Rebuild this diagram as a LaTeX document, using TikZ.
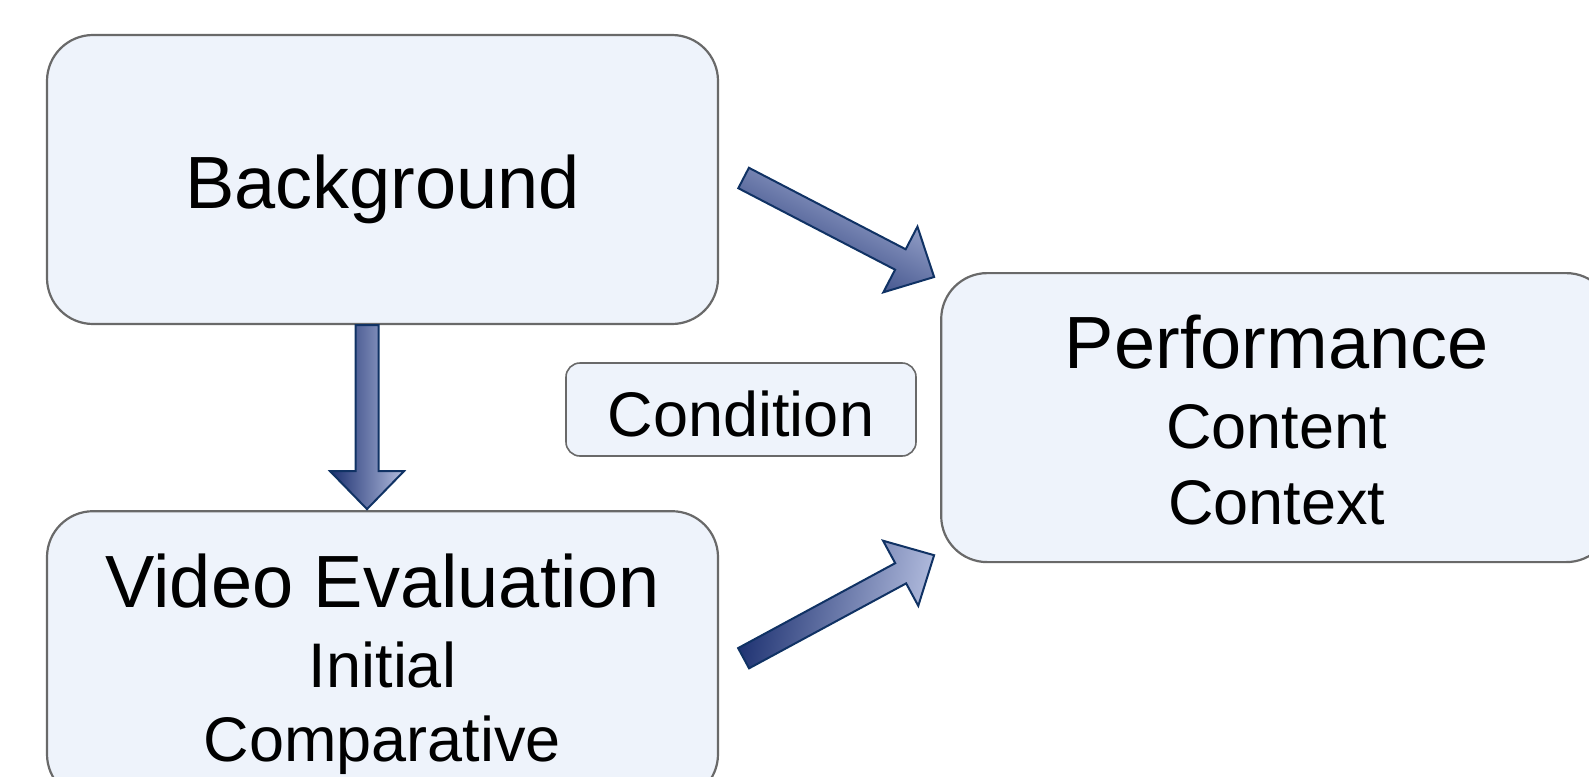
\documentclass[tikz,border=0pt]{standalone}
\usepackage{fontspec}
\setmainfont{Liberation Sans}
\usetikzlibrary{positioning,calc}

\definecolor{boxfill}{RGB}{238,243,251}
\definecolor{boxline}{RGB}{105,105,105}
\definecolor{arrdark}{RGB}{28,48,112}
\definecolor{arrlight}{RGB}{178,188,222}
\definecolor{arrline}{RGB}{16,50,100}

\tikzset{
  bigbox/.style={draw=boxline, fill=boxfill, line width=2.2pt, rounded corners=46pt,
    minimum width=671pt, minimum height=289pt, inner sep=0pt},
  smallbox/.style={draw=boxline, fill=boxfill, line width=1.6pt, rounded corners=14pt,
    minimum width=350pt, minimum height=93pt, inner sep=0pt},
  bigtext/.style={font=\fontsize{74pt}{80pt}\selectfont, anchor=base, inner sep=0pt},
  smalltext/.style={font=\fontsize{63pt}{70pt}\selectfont, anchor=base, inner sep=0pt},
  blockarrow/.style={draw=arrline, line width=2pt, line join=miter}
}

\begin{document}
\begin{tikzpicture}[x=1pt,y=1pt]

  \newcommand\fatarrow[3][]{%
    \coordinate (fa-base) at ($(#3)!38pt!(#2)$);
    \shadedraw[blockarrow,#1]
      ($(#2)!11.5pt!-90:(#3)$) -- ($(fa-base)!11.5pt!-90:(#3)$)
      -- ($(fa-base)!37pt!-90:(#3)$) -- (#3)
      -- ($(fa-base)!37pt!90:(#3)$) -- ($(fa-base)!11.5pt!90:(#3)$)
      -- ($(#2)!11.5pt!90:(#3)$) -- cycle;
  }

  \useasboundingbox (0,0) rectangle (1589,-776);

  % the three big boxes
  \node[bigbox] (bg) at (382.5,-179.5) {};
  \node[bigbox, below=185pt of bg] (video) {};
  \coordinate (mid) at ($(bg.east)!0.5!(video.east)$);
  \node[bigbox, right=221pt of mid] (perf) {};

  \node[smallbox] (cond) at (741,-409.5) {};

  % texts
  \node[bigtext] (bg-title) at ([yshift=-28.5pt]bg.center) {Background};

  \node[bigtext] (video-title) at ([yshift=48.5pt]video.center) {Video Evaluation};
  \node[smalltext] (video-a) at ([yshift=-32pt]video.center) {Initial};
  \node[smalltext] (video-b) at ([yshift=-106pt]video.center) {Comparative};

  \node[bigtext] (perf-title) at ([yshift=49pt]perf.center) {Performance};
  \node[smalltext] (perf-a) at ([yshift=-31pt]perf.center) {Content};
  \node[smalltext] (perf-b) at ([yshift=-107pt]perf.center) {Context};

  \node[smalltext] (cond-t) at ([yshift=-26.5pt]cond.center) {Condition};

  % block arrows
  \coordinate (a1s) at ([xshift=-15.5pt]bg.south);
  \coordinate (a1e) at ([xshift=-15.5pt,yshift=1pt]video.north);
  \fatarrow[left color=arrdark, right color=arrlight]{a1s}{a1e}

  \coordinate (a2s) at ([xshift=24.5pt,yshift=1.5pt]bg.east);
  \coordinate (a2e) at ([xshift=-6pt,yshift=-5pt]perf.north west);
  \fatarrow[top color=arrlight, bottom color=arrdark, shading angle=-28]{a2s}{a2e}

  \coordinate (a3s) at ([xshift=24.5pt,yshift=-2.5pt]video.east);
  \coordinate (a3e) at ([xshift=-6pt,yshift=8pt]perf.south west);
  \fatarrow[top color=arrlight, bottom color=arrdark, shading angle=-100]{a3s}{a3e}

\end{tikzpicture}
\end{document}
